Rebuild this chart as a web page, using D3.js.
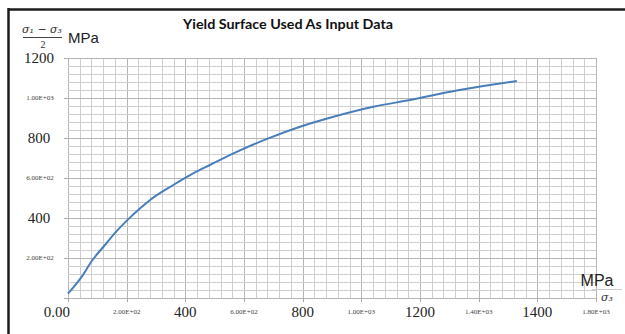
<!DOCTYPE html>
<html>
<head>
<meta charset="utf-8">
<script src="https://cdn.jsdelivr.net/npm/d3@7"></script>
<style>
  body { margin: 0; background: #fff; }
</style>
</head>
<body>
<svg class="chart"></svg>
<script>
// curve: sigma3 (MPa) vs (sigma1 - sigma3)/2 (MPa)
var sigma3   = [0, 47, 81, 126, 165, 205, 245, 280, 359, 427, 484, 564, 683, 791, 905, 1041, 1166, 1325, 1416, 1530];
var halfDiff = [22, 107, 185, 265, 333, 393, 447, 490, 565, 623, 665, 723, 798, 856, 906, 956, 990, 1037, 1060, 1085];

// tick labels (big ones were typed over the Excel ones)
var xBigTicks    = [0, 400, 800, 1200, 1600];
var xBigLabels   = ["0.00", "400", "800", "1200", "1400"];
var xSmallTicks  = [200, 600, 1000, 1400, 1800];
var xSmallLabels = ["2.00E+02", "6.00E+02", "1.00E+03", "1.40E+03", "1.80E+03"];
var yBigTicks    = [400, 800, 1200];
var yBigLabels   = ["400", "800", "1200"];
var ySmallTicks  = [200, 600, 1000];
var ySmallLabels = ["2.00E+02", "6.00E+02", "1.00E+03"];

var width = 625, height = 334;
var svg = d3.select("svg.chart")
  .attr("width", width)
  .attr("height", height);

var x = d3.scaleLinear().domain([0, 1800]).range([68, 596]);
var y = d3.scaleLinear().domain([0, 1200]).range([298, 58]);

// frame (top and left only)
svg.append("line").attr("x1", 8).attr("x2", 625).attr("y1", 9.5).attr("y2", 9.5)
  .attr("stroke", "#1c1c1c").attr("stroke-width", 2.5);
svg.append("line").attr("x1", 8.5).attr("x2", 8.5).attr("y1", 8).attr("y2", 334)
  .attr("stroke", "#1c1c1c").attr("stroke-width", 2.5);

// minor grid every 40, major every 200
var grid = svg.append("g").attr("class", "grid");
grid.selectAll("line.v")
  .data(d3.range(0, 1801, 40))
  .enter().append("line")
    .attr("x1", function(d) { return Math.round(x(d)) + 0.5; })
    .attr("x2", function(d) { return Math.round(x(d)) + 0.5; })
    .attr("y1", y(1200)).attr("y2", y(0))
    .attr("stroke", function(d) { return d % 200 === 0 ? "#b5b5b5" : "#cfcfcf"; })
    .attr("stroke-width", 1);
grid.selectAll("line.h")
  .data(d3.range(0, 1201, 40))
  .enter().append("line")
    .attr("x1", x(0)).attr("x2", x(1800))
    .attr("y1", function(d) { return Math.round(y(d)) + 0.5; })
    .attr("y2", function(d) { return Math.round(y(d)) + 0.5; })
    .attr("stroke", function(d) { return d % 200 === 0 ? "#b5b5b5" : "#cfcfcf"; })
    .attr("stroke-width", 1);

// small tick marks
svg.selectAll("line.xt")
  .data(xBigTicks.concat(xSmallTicks))
  .enter().append("line")
    .attr("x1", function(d) { return Math.round(x(d)) + 0.5; })
    .attr("x2", function(d) { return Math.round(x(d)) + 0.5; })
    .attr("y1", y(0)).attr("y2", y(0) + 4)
    .attr("stroke", "#aaa");
svg.selectAll("line.yt")
  .data([0].concat(yBigTicks, ySmallTicks))
  .enter().append("line")
    .attr("x1", x(0) - 4).attr("x2", x(0))
    .attr("y1", function(d) { return Math.round(y(d)) + 0.5; })
    .attr("y2", function(d) { return Math.round(y(d)) + 0.5; })
    .attr("stroke", "#aaa");

// x tick labels
svg.selectAll("text.xbig")
  .data(xBigTicks)
  .enter().append("text")
    .attr("x", function(d, i) { return i === 0 ? x(d) + 2 : x(d); })
    .attr("y", 317)
    .attr("text-anchor", function(d, i) { return i === 0 ? "end" : "middle"; })
    .style("font-family", "'Liberation Serif', 'DejaVu Serif', serif")
    .style("font-size", "15px")
    .style("fill", "#222")
    .text(function(d, i) { return xBigLabels[i]; });
svg.selectAll("text.xsmall")
  .data(xSmallTicks)
  .enter().append("text")
    .attr("x", function(d) { return x(d); })
    .attr("y", 314)
    .attr("text-anchor", "middle")
    .style("font-family", "'Liberation Serif', serif")
    .style("font-size", "7px")
    .style("fill", "#444")
    .text(function(d, i) { return xSmallLabels[i]; });

// y tick labels
svg.selectAll("text.ybig")
  .data(yBigTicks)
  .enter().append("text")
    .attr("x", 39)
    .attr("y", function(d) { return y(d) + 5; })
    .attr("text-anchor", "middle")
    .style("font-family", "'Liberation Serif', 'DejaVu Serif', serif")
    .style("font-size", "15px")
    .style("fill", "#222")
    .text(function(d, i) { return yBigLabels[i]; });
svg.selectAll("text.ysmall")
  .data(ySmallTicks)
  .enter().append("text")
    .attr("x", 40)
    .attr("y", function(d) { return y(d) + 2; })
    .attr("text-anchor", "middle")
    .style("font-family", "'Liberation Serif', serif")
    .style("font-size", "7px")
    .style("fill", "#444")
    .text(function(d, i) { return ySmallLabels[i]; });

// the curve
var line = d3.line()
  .x(function(d) { return x(d[0]); })
  .y(function(d) { return y(d[1]); })
  .curve(d3.curveMonotoneX);
svg.append("path")
  .datum(sigma3.map(function(s, i) { return [s, halfDiff[i]]; }))
  .attr("d", line)
  .attr("fill", "none")
  .attr("stroke", "#4a7ebb")
  .attr("stroke-width", 2);

// title
svg.append("text")
  .attr("x", 288).attr("y", 29)
  .attr("text-anchor", "middle")
  .attr("textLength", 210)
  .attr("lengthAdjust", "spacingAndGlyphs")
  .style("font-family", "Lato, 'Open Sans', sans-serif")
  .style("font-weight", "bold")
  .style("font-size", "12.5px")
  .style("fill", "#111")
  .text("Yield Surface Used As Input Data");

// y axis title: (sigma1 - sigma3) / 2  MPa
var yt = svg.append("g");
yt.append("text")
  .attr("x", 42).attr("y", 33)
  .attr("text-anchor", "middle")
  .style("font-family", "'DejaVu Serif', serif")
  .style("font-style", "italic")
  .style("font-size", "11px")
  .style("fill", "#333")
  .text("σ\u2081 − σ\u2083");
yt.append("line")
  .attr("x1", 23).attr("x2", 62).attr("y1", 37.5).attr("y2", 37.5)
  .attr("stroke", "#444").attr("stroke-width", 1);
yt.append("text")
  .attr("x", 43).attr("y", 48)
  .attr("text-anchor", "middle")
  .style("font-family", "'Liberation Serif', serif")
  .style("font-size", "10px")
  .style("fill", "#333")
  .text("2");
yt.append("text")
  .attr("x", 68).attr("y", 43)
  .style("font-family", "'Liberation Sans', Arial, sans-serif")
  .style("font-size", "15px")
  .style("fill", "#222")
  .text("MPa");

// x axis title
svg.append("text")
  .attr("x", 597).attr("y", 286)
  .attr("text-anchor", "middle")
  .style("font-family", "'Liberation Sans', Arial, sans-serif")
  .style("font-size", "16px")
  .style("fill", "#222")
  .text("MPa");
svg.append("line")
  .attr("x1", 592).attr("x2", 622).attr("y1", 289.5).attr("y2", 289.5)
  .attr("stroke", "#ccc").attr("stroke-width", 1);
svg.append("text")
  .attr("x", 607).attr("y", 301)
  .attr("text-anchor", "middle")
  .style("font-family", "'DejaVu Serif', serif")
  .style("font-style", "italic")
  .style("font-size", "11px")
  .style("fill", "#333")
  .text("σ\u2083");
</script>
</body>
</html>
